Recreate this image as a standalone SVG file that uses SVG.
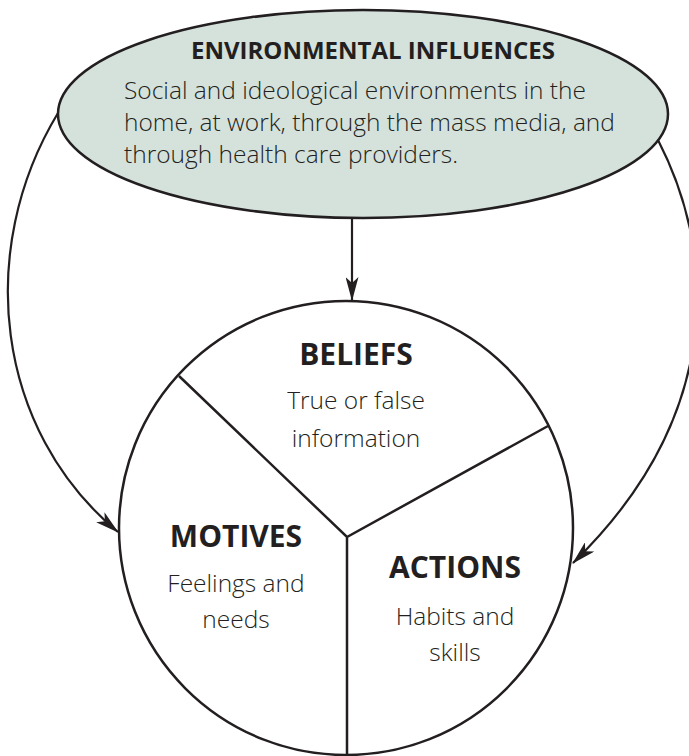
<svg xmlns="http://www.w3.org/2000/svg" width="689" height="756" viewBox="0 0 689 756">
<defs>
<style>
.t{font-family:"Open Sans","Noto Sans","Liberation Sans",sans-serif;fill:#231f20;text-anchor:middle}
.h{font-weight:bold}
.b{font-size:24.5px;font-weight:300}
.big{font-size:30px;font-weight:bold}
.ln{fill:none;stroke:#231f20;stroke-width:2.5}
.cn{fill:none;stroke:#231f20;stroke-width:2.2}
</style>
<marker id="ah" viewBox="0 0 24 13" markerWidth="24" markerHeight="13" refX="23" refY="6.5" orient="auto" markerUnits="userSpaceOnUse">
<path d="M0,0 L24,6.5 L0,13 L6,6.5 z" fill="#231f20"/>
</marker>
</defs>
<rect width="689" height="756" fill="#fff"/>
<g id="connectors">
<path class="cn" d="M58,113 C-25,250 -5,430 118,532" marker-end="url(#ah)"/>
<path class="cn" d="M658,140 C720,260 720,420 573,563" marker-end="url(#ah)"/>
<path class="cn" d="M352,219 L352,300" marker-end="url(#ah)"/>
</g>
<g id="environmental-influences">
<ellipse cx="363" cy="114" rx="305" ry="104" fill="#d5e2dc" stroke="#231f20" stroke-width="2.5"/>
<text class="t h" x="373" y="59" font-size="24">ENVIRONMENTAL INFLUENCES</text>
<text class="t b" style="text-anchor:start" x="124" y="99">Social and ideological environments in the</text>
<text class="t b" style="text-anchor:start" x="124" y="131">home, at work, through the mass media, and</text>
<text class="t b" style="text-anchor:start" x="124" y="163">through health care providers.</text>
</g>
<g id="circle">
<circle class="ln" cx="346" cy="528" r="227"/>
<path class="ln" d="M179,376 L347,537 L548,426 M347,537 L347,756"/>
</g>
<g id="beliefs">
<text class="t big" x="356" y="365">BELIEFS</text>
<text class="t b" x="356" y="409">True or false</text>
<text class="t b" x="356" y="447">information</text>
</g>
<g id="motives">
<text class="t big" x="236" y="547">MOTIVES</text>
<text class="t b" x="236" y="592">Feelings and</text>
<text class="t b" x="236" y="628">needs</text>
</g>
<g id="actions">
<text class="t big" x="455" y="578">ACTIONS</text>
<text class="t b" x="455" y="625">Habits and</text>
<text class="t b" x="455" y="661">skills</text>
</g>
</svg>
